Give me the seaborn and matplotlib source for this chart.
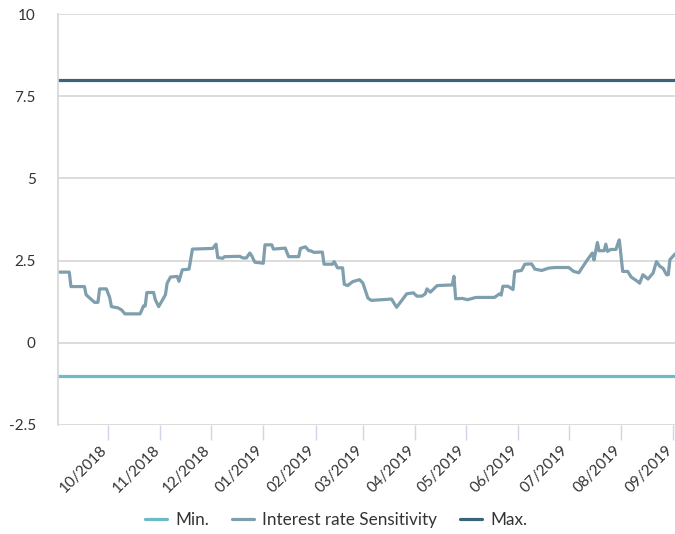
import pandas as pd
import matplotlib.pyplot as plt
import matplotlib.ticker as mticker
import seaborn as sns

# daily sensitivity readings
dates = ['2018-09-01', '2018-09-08', '2018-09-09', '2018-09-17', '2018-09-18', '2018-09-23',
         '2018-09-25', '2018-09-26', '2018-09-30', '2018-10-02', '2018-10-03', '2018-10-07',
         '2018-10-09', '2018-10-11', '2018-10-20', '2018-10-22', '2018-10-23', '2018-10-24',
         '2018-10-28', '2018-10-29', '2018-10-31', '2018-11-04', '2018-11-05', '2018-11-07',
         '2018-11-11', '2018-11-12', '2018-11-14', '2018-11-18', '2018-11-20', '2018-12-02',
         '2018-12-04', '2018-12-05', '2018-12-08', '2018-12-09', '2018-12-18', '2018-12-20',
         '2018-12-22', '2018-12-24', '2018-12-25', '2018-12-27', '2019-01-01', '2019-01-02',
         '2019-01-06', '2019-01-07', '2019-01-14', '2019-01-16', '2019-01-22', '2019-01-23',
         '2019-01-26', '2019-01-28', '2019-01-29', '2019-01-31', '2019-02-05', '2019-02-06',
         '2019-02-11', '2019-02-12', '2019-02-14', '2019-02-17', '2019-02-18', '2019-02-20',
         '2019-02-23', '2019-02-27', '2019-03-01', '2019-03-04', '2019-03-06', '2019-03-18',
         '2019-03-21', '2019-03-27', '2019-03-31', '2019-04-02', '2019-04-05', '2019-04-07',
         '2019-04-08', '2019-04-10', '2019-04-14', '2019-04-23', '2019-04-24', '2019-04-25',
         '2019-04-29', '2019-05-02', '2019-05-07', '2019-05-18', '2019-05-21', '2019-05-22',
         '2019-05-23', '2019-05-26', '2019-05-29', '2019-05-30', '2019-06-03', '2019-06-05',
         '2019-06-09', '2019-06-11', '2019-06-15', '2019-06-19', '2019-06-23', '2019-07-01',
         '2019-07-04', '2019-07-07', '2019-07-12', '2019-07-15', '2019-07-16', '2019-07-18',
         '2019-07-19', '2019-07-22', '2019-07-23', '2019-07-24', '2019-07-26', '2019-07-29',
         '2019-07-30', '2019-07-31', '2019-08-02', '2019-08-05', '2019-08-07', '2019-08-11',
         '2019-08-12', '2019-08-14', '2019-08-17', '2019-08-20', '2019-08-22', '2019-08-24',
         '2019-08-26', '2019-08-28', '2019-08-29', '2019-08-30', '2019-09-02']
sensitivity = [2.15, 2.15, 1.71, 1.71, 1.46, 1.23, 1.23, 1.64, 1.64, 1.37, 1.10, 1.06,
               1.00, 0.88, 0.88, 1.12, 1.12, 1.53, 1.53, 1.31, 1.10, 1.46, 1.81, 2.00,
               2.02, 1.87, 2.22, 2.24, 2.85, 2.87, 3.00, 2.59, 2.57, 2.62, 2.63, 2.58,
               2.58, 2.73, 2.66, 2.45, 2.42, 2.98, 2.98, 2.85, 2.88, 2.62, 2.62, 2.87,
               2.92, 2.80, 2.80, 2.75, 2.76, 2.39, 2.39, 2.47, 2.28, 2.28, 1.78, 1.74,
               1.86, 1.92, 1.82, 1.36, 1.29, 1.33, 1.08, 1.49, 1.52, 1.42, 1.42, 1.49,
               1.64, 1.54, 1.74, 1.76, 2.02, 1.34, 1.35, 1.31, 1.38, 1.38, 1.49, 1.45,
               1.72, 1.72, 1.62, 2.17, 2.20, 2.39, 2.40, 2.24, 2.20, 2.27, 2.29, 2.29,
               2.17, 2.13, 2.52, 2.73, 2.52, 3.05, 2.80, 2.80, 3.00, 2.78, 2.84, 2.84,
               3.00, 3.13, 2.17, 2.17, 2.00, 1.86, 1.81, 2.07, 1.94, 2.12, 2.47, 2.33,
               2.26, 2.07, 2.07, 2.53, 2.70]
min_limit = -1.0
max_limit = 8.0
series_names = ['Min.', 'Interest rate Sensitivity', 'Max.']
colors = ['#6dbbc6', '#7f9fae', '#3b6379']
y_ticks = [-2.5, 0, 2.5, 5, 7.5, 10]
month_ticks = pd.date_range('2018-10-01', '2019-09-01', freq='MS')

d = pd.to_datetime(dates)
ends = [d[0], d[-1]]
df = pd.concat([
    pd.DataFrame({'date': ends, 'value': [min_limit] * 2, 'series': 'Min.'}),
    pd.DataFrame({'date': d, 'value': sensitivity, 'series': 'Interest rate Sensitivity'}),
    pd.DataFrame({'date': ends, 'value': [max_limit] * 2, 'series': 'Max.'}),
])

sns.set_style('white')
plt.rcParams['font.family'] = ['Lato', 'DejaVu Sans']

fig = plt.figure(figsize=(6.75, 5.34), dpi=100)
ax = fig.add_axes([58 / 675, 1 - 425 / 534, 1 - 58 / 675, 411 / 534])
sns.lineplot(data=df, x='date', y='value', hue='series', hue_order=series_names,
             palette=colors, linewidth=2.3, ax=ax, legend=False)

ax.set_xlim(pd.Timestamp('2018-09-01 08:00'), pd.Timestamp('2019-09-02'))
ax.set_ylim(-2.5, 10)
ax.set_yticks(y_ticks)
ax.yaxis.set_major_formatter(mticker.FuncFormatter(lambda v, p: f'{v:g}'))
ax.set_xticks(month_ticks)
ax.set_xticklabels([m.strftime('%m/%Y') for m in month_ticks], rotation=45,
                   ha='right', va='baseline', rotation_mode='anchor')
ax.tick_params(axis='x', length=11, width=1, color='#cdd5e6', colors='#333333',
               labelsize=11, pad=7.5, direction='out', bottom=True)
ax.tick_params(axis='y', length=0, labelsize=11, colors='#333333', pad=16)
ax.grid(axis='y', color='#d9d9d9', linewidth=1.3)
ax.set_axisbelow(True)
for s in ['top', 'right', 'bottom']:
    ax.spines[s].set_visible(False)
ax.spines['left'].set_color('#d9d9d9')
ax.spines['left'].set_linewidth(1.3)
ax.set_xlabel('')
ax.set_ylabel('')

handles = [plt.Line2D([], [], color=c, linewidth=2.3) for c in colors]
fig.legend(handles, series_names, loc='center', bbox_to_anchor=(336 / 675, 1 - 520 / 534),
           ncol=3, frameon=False, fontsize=12.3, handlelength=1.3, columnspacing=1.35,
           handletextpad=0.47, labelcolor='#333333')

fig.savefig('out.png', dpi=100)
